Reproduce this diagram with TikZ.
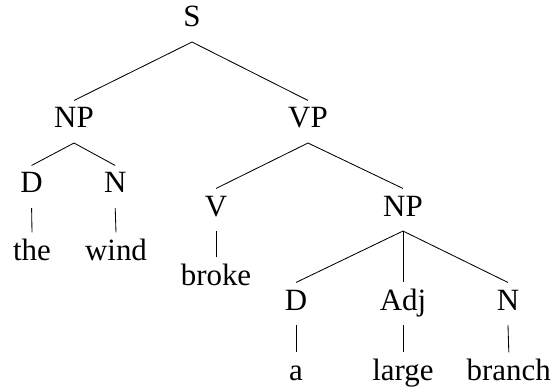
\documentclass[tikz,border=0pt]{standalone}
\usepackage{fontspec}
\setmainfont{Liberation Serif}
\tikzset{
    lbl/.style={anchor=base, inner sep=0.175cm, text height=14.4pt, text depth=5.5pt, font=\fontsize{22}{26}\selectfont},
    branch/.style={line width=0.6pt}
}
\begin{document}
\begin{tikzpicture}
                \useasboundingbox (0,0) rectangle (13.8,-9.675);

                \node[lbl] (S) at (4.8,-0.675) {S};
                \node[lbl] (NP1) at (1.85,-3.2) {NP};
                \node[lbl] (VP) at (7.7,-3.2) {VP};
                \node[lbl] (D1) at (0.79,-4.825) {D};
                \node[lbl] (N1) at (2.88,-4.825) {N};
                \node[lbl] (the) at (0.8,-6.5) {the};
                \node[lbl] (wind) at (2.9,-6.5) {wind};
                \node[lbl] (V) at (5.4,-5.4) {V};
                \node[lbl] (NP2) at (10.075,-5.4) {NP};
                \node[lbl] (broke) at (5.4,-7.125) {broke};
                \node[lbl] (D2) at (7.4,-7.75) {D};
                \node[lbl] (Adj) at (10.075,-7.75) {Adj};
                \node[lbl] (N2) at (12.7,-7.75) {N};
                \node[lbl] (a) at (7.4,-9.5) {a};
                \node[lbl] (large) at (10.075,-9.5) {large};
                \node[lbl] (branch) at (12.72,-9.5) {branch};

                \path [branch] (S.south) edge (NP1.north);
                \path [branch] (S.south) edge (VP.north);
                \path [branch] (NP1.south) edge (D1.north);
                \path [branch] (NP1.south) edge (N1.north);
                \path [branch] (D1.south) edge (the.north);
                \path [branch] (N1.south) edge (wind.north);
                \path [branch] (VP.south) edge (V.north);
                \path [branch] (VP.south) edge (NP2.north);
                \path [branch] (V.south) edge (broke.north);
                \path [branch] (NP2.south) edge (D2.north);
                \path [branch] (NP2.south) edge (Adj.north);
                \path [branch] (NP2.south) edge (N2.north);
                \path [branch] (D2.south) edge (a.north);
                \path [branch] (Adj.south) edge (large.north);
                \path [branch] (N2.south) edge (branch.north);
            \end{tikzpicture}
\end{document}
